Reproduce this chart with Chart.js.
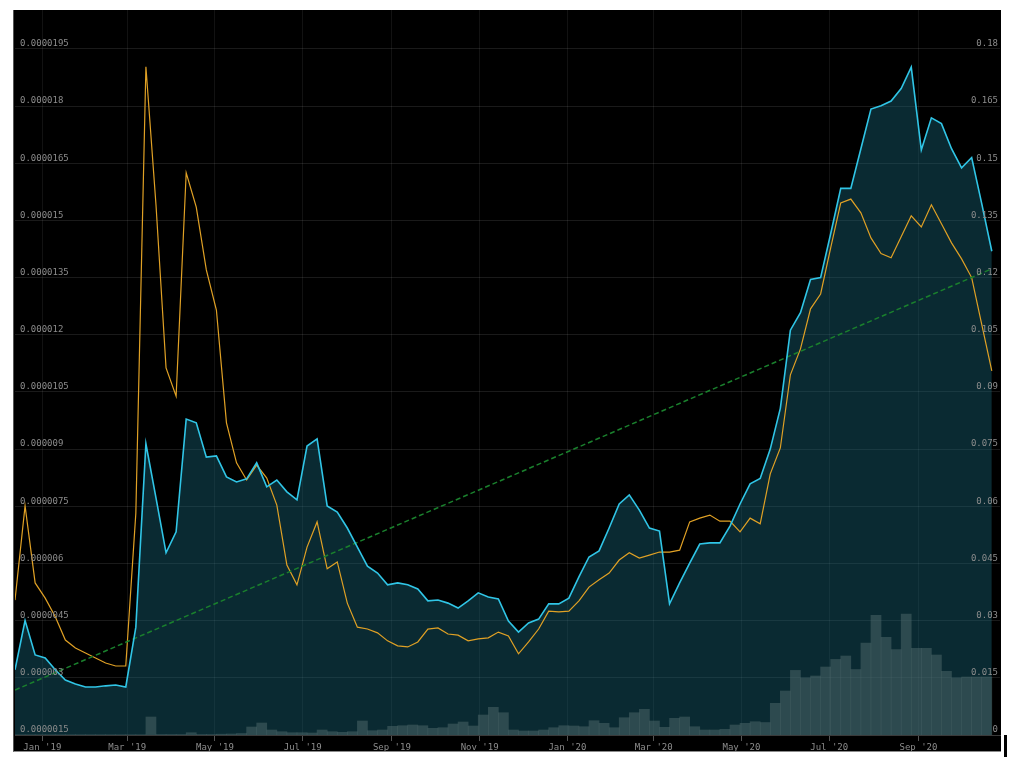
<!DOCTYPE html>
<html>
<head>
<meta charset="utf-8">
<script src="https://cdn.jsdelivr.net/npm/chart.js@4.4.0/dist/chart.umd.min.js"></script>
<style>
  html, body { margin: 0; padding: 0; background: #fff; }
  #frame { position: absolute; left: 13px; top: 10px; width: 988px; height: 742px; background: #000;
           border-left: 1px solid #555; border-bottom: 1px solid #8c8c8c; box-sizing: border-box; overflow: hidden; }
  #chart { position: absolute; left: 0; top: 0; }
  #cursor { position: absolute; left: 1004px; top: 735px; width: 3px; height: 22px; background: #000; }
</style>
</head>
<body>
<div id="frame"><canvas id="chart" width="987" height="741"></canvas></div>
<div id="cursor"></div>
<script>
// x axis: days counted from 1 Jan 2019, weekly samples starting 13 Dec 2018
const firstDay = -19;
const tickDays = [0, 59, 120, 181, 243, 304, 365, 425, 486, 547, 609];
const tickLabels = ["Jan '19", "Mar '19", "May '19", "Jul '19", "Sep '19", "Nov '19",
                    "Jan '20", "Mar '20", "May '20", "Jul '20", "Sep '20"];

// price in USD (right axis)
const priceUsd = [
  0.0171, 0.0300, 0.0210, 0.0202, 0.0171, 0.0144, 0.0134, 0.0126, 0.0126, 0.0129,
  0.0131, 0.0126, 0.0283, 0.0764, 0.0622, 0.0478, 0.0533, 0.0829, 0.0819, 0.0729,
  0.0732, 0.0677, 0.0664, 0.0672, 0.0714, 0.0651, 0.0669, 0.0638, 0.0617, 0.0758,
  0.0777, 0.0601, 0.0585, 0.0543, 0.0493, 0.0443, 0.0425, 0.0394, 0.0399, 0.0394,
  0.0383, 0.0352, 0.0354, 0.0346, 0.0333, 0.0352, 0.0373, 0.0362, 0.0357, 0.0299,
  0.0270, 0.0294, 0.0304, 0.0344, 0.0344, 0.0359, 0.0415, 0.0467, 0.0483, 0.0543,
  0.0606, 0.0630, 0.0590, 0.0543, 0.0535, 0.0344, 0.0399, 0.0451, 0.0501, 0.0504,
  0.0504, 0.0548, 0.0606, 0.0659, 0.0673, 0.0750, 0.0857, 0.1062, 0.1108, 0.1195,
  0.1200, 0.1315, 0.1434, 0.1434, 0.1538, 0.1642, 0.1651, 0.1663, 0.1696, 0.1752,
  0.1535, 0.1619, 0.1604, 0.1538, 0.1488, 0.1515, 0.1394, 0.1269
];

// price in BTC (left axis)
const priceBtc = [
  5.04e-6, 7.51e-6, 5.49e-6, 5.09e-6, 4.60e-6, 3.99e-6, 3.78e-6, 3.65e-6, 3.52e-6, 3.39e-6,
  3.31e-6, 3.31e-6, 7.32e-6, 19.03e-6, 15.41e-6, 11.13e-6, 10.39e-6, 16.25e-6, 15.35e-6, 13.70e-6,
  12.65e-6, 9.69e-6, 8.64e-6, 8.19e-6, 8.58e-6, 8.24e-6, 7.53e-6, 5.96e-6, 5.44e-6, 6.43e-6,
  7.09e-6, 5.86e-6, 6.04e-6, 4.96e-6, 4.33e-6, 4.28e-6, 4.18e-6, 3.97e-6, 3.84e-6, 3.81e-6,
  3.94e-6, 4.28e-6, 4.31e-6, 4.15e-6, 4.12e-6, 3.97e-6, 4.02e-6, 4.05e-6, 4.20e-6, 4.10e-6,
  3.63e-6, 3.94e-6, 4.28e-6, 4.75e-6, 4.73e-6, 4.75e-6, 5.02e-6, 5.38e-6, 5.57e-6, 5.75e-6,
  6.09e-6, 6.28e-6, 6.14e-6, 6.22e-6, 6.30e-6, 6.30e-6, 6.35e-6, 7.09e-6, 7.19e-6, 7.27e-6,
  7.11e-6, 7.11e-6, 6.83e-6, 7.19e-6, 7.04e-6, 8.35e-6, 9.03e-6, 10.95e-6, 11.63e-6, 12.68e-6,
  13.07e-6, 14.28e-6, 15.46e-6, 15.56e-6, 15.20e-6, 14.54e-6, 14.13e-6, 14.02e-6, 14.57e-6, 15.12e-6,
  14.83e-6, 15.41e-6, 14.91e-6, 14.41e-6, 13.99e-6, 13.50e-6, 12.27e-6, 11.05e-6
];

// weekly volume (relative units), one bar per week interval
const volume = [
  0.3, 0.3, 0.3, 0.3, 0.3, 0.3, 0.3, 0.3, 0.3, 0.3,
  0.3, 0.3, 0.3, 18, 0.5, 0.5, 0.5, 2.3, 0.5, 0.5,
  0.8, 1, 1.5, 8, 12, 5, 3.3, 2.3, 2.3, 2,
  5, 3.3, 2.7, 3.3, 14, 4.3, 5, 8.7, 9.3, 10,
  9.3, 6.7, 7.3, 11, 13, 9, 20, 27.7, 22.3, 5,
  4, 4, 5, 7.3, 9.3, 9, 8.3, 14.3, 11.7, 7.3,
  17.3, 22.3, 25.7, 14, 7.7, 16.7, 18, 8.3, 5, 5,
  5.7, 10, 11.7, 13.3, 12.5, 31.7, 44, 64.6, 57, 59,
  68, 75.6, 79, 65.5, 92, 119.6, 97.6, 85.3, 121, 86.6,
  86.6, 80, 63.7, 57, 58, 58, 58
];

// trend line end points (USD, right axis)
const trendDays = [-19, 660];
const trendUsd = [0.0118, 0.1223];

const weekDays = priceUsd.map((_, i) => firstDay + 7 * i);

function fmt(v, d) {
  let s = v.toFixed(d);
  if (s.indexOf('.') >= 0) s = s.replace(/0+$/, '').replace(/\.$/, '');
  return s;
}

// y labels sit inside the plot, just above their grid line
const insideLabels = {
  id: 'insideLabels',
  afterDatasetsDraw(chart) {
    const ctx = chart.ctx;
    const area = chart.chartArea;
    const yL = chart.scales.yL, yR = chart.scales.yR;
    ctx.save();
    ctx.font = '9px "DejaVu Sans Mono"';
    ctx.fillStyle = '#8c8c8c';
    ctx.textBaseline = 'middle';
    ctx.textAlign = 'left';
    yL.ticks.forEach(t => ctx.fillText(fmt(t.value, 7), area.left + 5, yL.getPixelForValue(t.value) - 5));
    ctx.textAlign = 'right';
    yR.ticks.forEach(t => ctx.fillText(fmt(t.value, 3), area.right - 2, yR.getPixelForValue(t.value) - 5));
    ctx.restore();
  }
};

const chart = new Chart(document.getElementById('chart'), {
  type: 'line',
  data: {
    datasets: [
      {
        label: 'USD',
        yAxisID: 'yR',
        data: priceUsd.map((v, i) => ({ x: weekDays[i], y: v })),
        borderColor: '#30c5e6',
        borderWidth: 1.6,
        backgroundColor: 'rgba(25, 105, 125, 0.4)',
        fill: 'start',
        pointRadius: 0,
        tension: 0,
        order: 0
      },
      {
        label: 'Trend',
        yAxisID: 'yR',
        data: trendUsd.map((v, i) => ({ x: trendDays[i], y: v })),
        borderColor: '#1a802d',
        borderWidth: 1.5,
        borderDash: [5, 3],
        pointRadius: 0,
        fill: false,
        order: 1
      },
      {
        label: 'BTC',
        yAxisID: 'yL',
        data: priceBtc.map((v, i) => ({ x: weekDays[i], y: v })),
        borderColor: '#e0a125',
        borderWidth: 1.2,
        pointRadius: 0,
        tension: 0,
        fill: false,
        order: 2
      },
      {
        type: 'bar',
        label: 'Volume',
        yAxisID: 'yV',
        data: volume.map((v, i) => ({ x: weekDays[i] + 3.5, y: v })),
        backgroundColor: 'rgba(80, 105, 108, 0.5)',
        borderWidth: 0,
        barPercentage: 1,
        categoryPercentage: 1,
        grouped: false,
        order: 3
      }
    ]
  },
  options: {
    responsive: false,
    animation: false,
    devicePixelRatio: 1,
    layout: { padding: { left: 1, right: 1, top: 0, bottom: 0 } },
    plugins: {
      legend: { display: false },
      tooltip: { enabled: false },
      filler: { drawTime: 'beforeDatasetsDraw' }
    },
    scales: {
      x: {
        type: 'linear',
        min: -19,
        max: 665.7,
        offset: false,
        afterBuildTicks: s => { s.ticks = tickDays.map(v => ({ value: v })); },
        afterFit: s => { s.height = 16; },
        ticks: {
          autoSkip: false,
          maxRotation: 0,
          padding: 1,
          color: '#8c8c8c',
          font: { family: 'DejaVu Sans Mono', size: 9 },
          callback: v => tickLabels[tickDays.indexOf(v)]
        },
        grid: { color: 'rgba(255,255,255,0.07)', tickColor: '#555', tickLength: 6, offset: false },
        border: { display: true, color: '#3a3a3a' }
      },
      yL: {
        position: 'left',
        min: 1.5e-6,
        max: 2.052e-5,
        ticks: { display: false, stepSize: 1.5e-6, includeBounds: false, maxTicksLimit: 20 },
        grid: { color: 'rgba(255,255,255,0.1)', drawTicks: false },
        border: { display: false }
      },
      yR: {
        position: 'right',
        display: false,
        min: 0,
        max: 0.1902,
        ticks: { stepSize: 0.015, includeBounds: false, maxTicksLimit: 20 }
      },
      yV: {
        position: 'right',
        display: false,
        min: 0,
        max: 725
      }
    }
  },
  plugins: [insideLabels]
});
</script>
</body>
</html>
